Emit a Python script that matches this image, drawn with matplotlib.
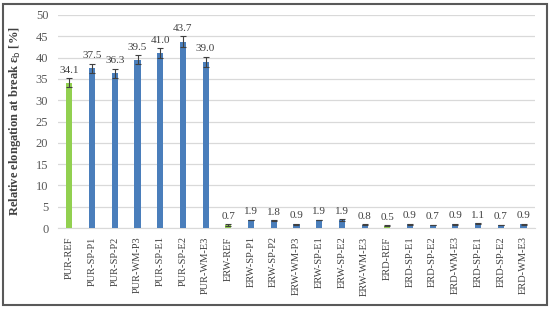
import matplotlib

matplotlib.use("Agg")
import matplotlib.pyplot as plt
from matplotlib.patches import Rectangle

samples = [
    "PUR-REF", "PUR-SP-P1", "PUR-SP-P2", "PUR-WM-P3", "PUR-SP-E1", "PUR-SP-E2", "PUR-WM-E3",
    "ERW-REF", "ERW-SP-P1", "ERW-SP-P2", "ERW-WM-P3", "ERW-SP-E1", "ERW-SP-E2", "ERW-WM-E3",
    "ERD-REF", "ERD-SP-E1", "ERD-SP-E2", "ERD-WM-E3", "ERD-SP-E1", "ERD-SP-E2", "ERD-WM-E3",
]
elongation = [34.1, 37.5, 36.3, 39.5, 41.0, 43.7, 39.0,
              0.7, 1.9, 1.8, 0.9, 1.9, 1.9, 0.8,
              0.5, 0.9, 0.7, 0.9, 1.1, 0.7, 0.9]
errors = [1.1, 1.1, 1.1, 1.1, 1.2, 1.3, 1.2,
          0.15, 0.1, 0.1, 0.1, 0.1, 0.15, 0.1,
          0.1, 0.1, 0.1, 0.1, 0.1, 0.1, 0.1]

plt.rcParams["font.family"] = ["Liberation Serif", "DejaVu Serif"]

colors = ["#92d050" if s.endswith("REF") else "#4a7ebb" for s in samples]
xs = list(range(len(samples)))

fig = plt.figure(figsize=(5.5, 3.09), dpi=100)
ax = fig.add_axes((0.1055, 0.262, 0.867, 0.6895))

ax.bar(xs, elongation, width=0.27, color=colors, zorder=3,
       yerr=errors, error_kw=dict(ecolor="#404040", elinewidth=0.8, capsize=2, capthick=0.8))
for x, v, e in zip(xs, elongation, errors):
    ax.text(x, v + e + 0.8, f"{v:.1f}", ha="center", va="bottom", fontsize=8, color="#404040")

ax.set_xlim(-0.5, len(samples) - 0.5)
ax.set_ylim(0, 50)
ax.set_yticks(range(0, 51, 5))
ax.set_xticks(xs)
ax.set_xticklabels(samples, rotation=90, fontsize=7.5, color="#404040")
ax.tick_params(axis="y", labelsize=9, colors="#595959", length=0, pad=7)
ax.tick_params(axis="x", length=0, pad=6)
ax.grid(axis="y", color="#d9d9d9", linewidth=0.9, zorder=0)
for side in ["top", "right", "left"]:
    ax.spines[side].set_visible(False)
ax.spines["bottom"].set_color("#d9d9d9")
ax.set_ylabel("Relative elongation at break ε$_\\mathrm{b}$ [%]", fontsize=9,
              fontweight="bold", color="#404040", labelpad=9)

fig.patches.append(Rectangle((0.006, 0.012), 0.988, 0.976, transform=fig.transFigure,
                             fill=False, edgecolor="#595959", linewidth=1.5))

fig.savefig("out.png", dpi=100)
